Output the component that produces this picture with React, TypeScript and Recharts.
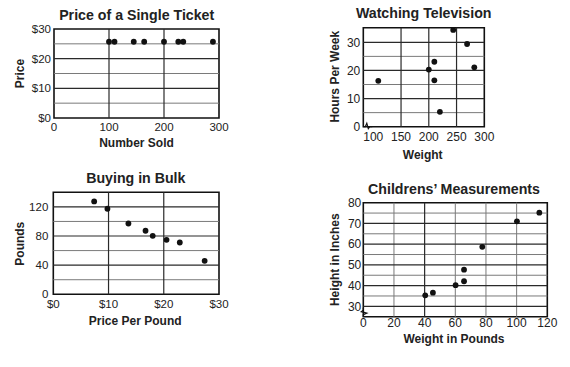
import React from "react";
import {
  ScatterChart,
  Scatter,
  XAxis,
  YAxis,
  ReferenceLine,
  ReferenceArea,
} from "recharts";

// Price of a Single Ticket
const ticketSold = [100, 110, 145, 164, 200, 226, 235, 289];
const ticketPrice = [25.7, 25.7, 25.7, 25.7, 25.7, 25.7, 25.7, 25.7];

// Watching Television
const tvWeight = [109, 200, 210, 210, 220, 244, 269, 282];
const tvHours = [16.3, 20.3, 23.1, 16.5, 5.3, 34.4, 29.4, 21.1];

// Buying in Bulk
const bulkPrice = [7.4, 9.8, 13.6, 16.7, 18, 20.5, 22.9, 27.4];
const bulkPounds = [127.5, 117.4, 97.2, 87.2, 80.3, 74.8, 71.1, 45.9];

// Childrens' Measurements
const childWeight = [40.4, 45.4, 60.2, 65.7, 65.7, 77.6, 100.2, 114.8];
const childHeight = [35.3, 36.6, 40.2, 42.1, 47.7, 58.7, 71, 75.2];

const FONT = '"Liberation Sans", Arial, Helvetica, sans-serif';
const INK = "#222";
const DARK = "#2a2a2a";
const LIGHT = "#7a7a7a";

const toPoints = (xs: number[], ys: number[]) =>
  xs.map((x, i) => ({ x, y: ys[i] }));

const Dot = (props: any) => (
  <circle cx={props.cx} cy={props.cy} r={2.9} fill="#111" />
);

type PanelProps = {
  box: { left: number; top: number; width: number; height: number };
  plot: { left: number; right: number; top: number; bottom: number };
  title: string;
  titlePos: [number, number];
  xLabel: string;
  xLabelPos: [number, number];
  yLabel: string;
  yLabelPos: [number, number];
  xDomain: [number, number];
  yDomain: [number, number];
  xTicks: number[];
  yTicks: number[];
  xFormat?: (v: number) => string;
  yFormat?: (v: number) => string;
  tickFont: number;
  xTickGap: number;
  yTickGap: number;
  hDark: number[];
  hLight: number[];
  vDark: number[];
  vLight: number[];
  points: { x: number; y: number }[];
  axisBreak?: "x" | "y";
};

function Panel(p: PanelProps) {
  const AX = 20;
  const bx = p.plot.left;
  const by = p.box.height - p.plot.bottom;
  return (
    <div style={{ position: "absolute", left: p.box.left, top: p.box.top }}>
      <ScatterChart
        width={p.box.width}
        height={p.box.height}
        margin={{
          top: p.plot.top,
          right: p.plot.right,
          bottom: p.plot.bottom - AX,
          left: p.plot.left - AX,
        }}
      >
        <XAxis
          type="number"
          dataKey="x"
          domain={p.xDomain}
          ticks={p.xTicks}
          allowDataOverflow
          height={AX}
          axisLine={false}
          tickLine={false}
          tickSize={0}
          tickMargin={p.xTickGap}
          tickFormatter={p.xFormat}
          interval={0}
          tick={{ fontSize: p.tickFont, fill: INK, fontFamily: FONT }}
        />
        <YAxis
          type="number"
          dataKey="y"
          domain={p.yDomain}
          ticks={p.yTicks}
          allowDataOverflow
          width={AX}
          axisLine={false}
          tickLine={false}
          tickSize={0}
          tickMargin={p.yTickGap}
          tickFormatter={p.yFormat}
          interval={0}
          tick={{ fontSize: p.tickFont, fill: INK, fontFamily: FONT }}
        />
        {p.hLight.map((v) => (
          <ReferenceLine key={"hl" + v} y={v} stroke={LIGHT} strokeWidth={1} />
        ))}
        {p.vLight.map((v) => (
          <ReferenceLine key={"vl" + v} x={v} stroke={LIGHT} strokeWidth={1} />
        ))}
        {p.hDark.map((v) => (
          <ReferenceLine key={"hd" + v} y={v} stroke={DARK} strokeWidth={1.2} />
        ))}
        {p.vDark.map((v) => (
          <ReferenceLine key={"vd" + v} x={v} stroke={DARK} strokeWidth={1.2} />
        ))}
        <ReferenceArea
          x1={p.xDomain[0]}
          x2={p.xDomain[1]}
          y1={p.yDomain[0]}
          y2={p.yDomain[1]}
          fill="none"
          fillOpacity={0}
          stroke="#111"
          strokeWidth={1.6}
        />
        {p.axisBreak === "x" && (
          <g>
            <line x1={bx + 1} y1={by} x2={bx + 8} y2={by} stroke="#fff" strokeWidth={3} />
            <polyline
              points={`${bx},${by} ${bx + 2},${by} ${bx + 3.5},${by - 3.5} ${bx + 5},${by + 2} ${bx + 6.5},${by} ${bx + 9},${by}`}
              fill="none"
              stroke="#111"
              strokeWidth={1.2}
            />
          </g>
        )}
        {p.axisBreak === "y" && (
          <g>
            <line x1={bx} y1={by - 1} x2={bx} y2={by - 8} stroke="#fff" strokeWidth={3} />
            <polyline
              points={`${bx},${by} ${bx},${by - 2} ${bx + 3.5},${by - 3.5} ${bx - 2},${by - 5} ${bx},${by - 6.5} ${bx},${by - 9}`}
              fill="none"
              stroke="#111"
              strokeWidth={1.2}
            />
          </g>
        )}
        <Scatter data={p.points} shape={Dot} isAnimationActive={false} />
        <text
          x={p.titlePos[0]}
          y={p.titlePos[1]}
          textAnchor="middle"
          fontFamily={FONT}
          fontWeight="bold"
          fontSize={14.2}
          fill={INK}
        >
          {p.title}
        </text>
        <text
          x={p.xLabelPos[0]}
          y={p.xLabelPos[1]}
          textAnchor="middle"
          fontFamily={FONT}
          fontWeight="bold"
          fontSize={12}
          fill={INK}
        >
          {p.xLabel}
        </text>
        <text
          x={p.yLabelPos[0]}
          y={p.yLabelPos[1]}
          transform={`rotate(-90 ${p.yLabelPos[0]} ${p.yLabelPos[1]})`}
          textAnchor="middle"
          fontFamily={FONT}
          fontWeight="bold"
          fontSize={12}
          fill={INK}
        >
          {p.yLabel}
        </text>
      </ScatterChart>
    </div>
  );
}

const dollars = (v: number) => `$${v}`;

export default function App() {
  return (
    <div
      style={{
        position: "absolute",
        left: 0,
        top: 0,
        width: 570,
        height: 367,
        background: "#fff",
      }}
    >
      <Panel
        box={{ left: 0, top: 0, width: 285, height: 165 }}
        plot={{ left: 54, right: 66, top: 29, bottom: 47 }}
        title="Price of a Single Ticket"
        titlePos={[136.7, 20]}
        xLabel="Number Sold"
        xLabelPos={[136.5, 147]}
        yLabel="Price"
        yLabelPos={[24, 73.5]}
        xDomain={[0, 300]}
        yDomain={[0, 30]}
        xTicks={[0, 100, 200, 300]}
        yTicks={[0, 10, 20, 30]}
        yFormat={dollars}
        tickFont={11.5}
        xTickGap={4.5}
        yTickGap={3}
        hDark={[10, 20]}
        hLight={[5, 15, 25]}
        vDark={[100, 200]}
        vLight={[]}
        points={toPoints(ticketSold, ticketPrice)}
      />
      <Panel
        box={{ left: 285, top: 0, width: 285, height: 165 }}
        plot={{ left: 78.3, right: 85.7, top: 27.7, bottom: 38.3 }}
        title="Watching Television"
        titlePos={[138.7, 18.3]}
        xLabel="Weight"
        xLabelPos={[137.7, 158.7]}
        yLabel="Hours Per Week"
        yLabelPos={[54, 76.7]}
        xDomain={[82, 300]}
        yDomain={[0, 35.2]}
        xTicks={[100, 150, 200, 250, 300]}
        yTicks={[0, 10, 20, 30]}
        tickFont={12}
        xTickGap={6}
        yTickGap={3}
        hDark={[10, 20, 30]}
        hLight={[5, 15, 25]}
        vDark={[150, 200, 250]}
        vLight={[]}
        points={toPoints(tvWeight, tvHours)}
        axisBreak="x"
      />
      <Panel
        box={{ left: 0, top: 165, width: 285, height: 180 }}
        plot={{ left: 53.3, right: 66, top: 27.3, bottom: 50.7 }}
        title="Buying in Bulk"
        titlePos={[135.8, 18.3]}
        xLabel="Price Per Pound"
        xLabelPos={[135.2, 160]}
        yLabel="Pounds"
        yLabelPos={[24, 78.7]}
        xDomain={[0, 30]}
        yDomain={[0, 140]}
        xTicks={[0, 10, 20, 30]}
        yTicks={[0, 40, 80, 120]}
        xFormat={dollars}
        tickFont={11.5}
        xTickGap={6}
        yTickGap={5}
        hDark={[40, 80, 120]}
        hLight={[20, 60, 100]}
        vDark={[10, 20]}
        vLight={[]}
        points={toPoints(bulkPrice, bulkPounds)}
      />
      <Panel
        box={{ left: 285, top: 175, width: 285, height: 180 }}
        plot={{ left: 78.3, right: 22.7, top: 27.7, bottom: 38.3 }}
        title="Childrens’ Measurements"
        titlePos={[169, 19.3]}
        xLabel="Weight in Pounds"
        xLabelPos={[169, 168.3]}
        yLabel="Height in Inches"
        yLabelPos={[54, 84.7]}
        xDomain={[0, 120]}
        yDomain={[25, 80]}
        xTicks={[0, 20, 40, 60, 80, 100, 120]}
        yTicks={[30, 40, 50, 60, 70, 80]}
        tickFont={12}
        xTickGap={1.6}
        yTickGap={2}
        hDark={[30, 40, 50, 60, 70]}
        hLight={[35, 45, 55, 65, 75]}
        vDark={[40]}
        vLight={[20, 60, 80, 100]}
        points={toPoints(childWeight, childHeight)}
        axisBreak="y"
      />
    </div>
  );
}
